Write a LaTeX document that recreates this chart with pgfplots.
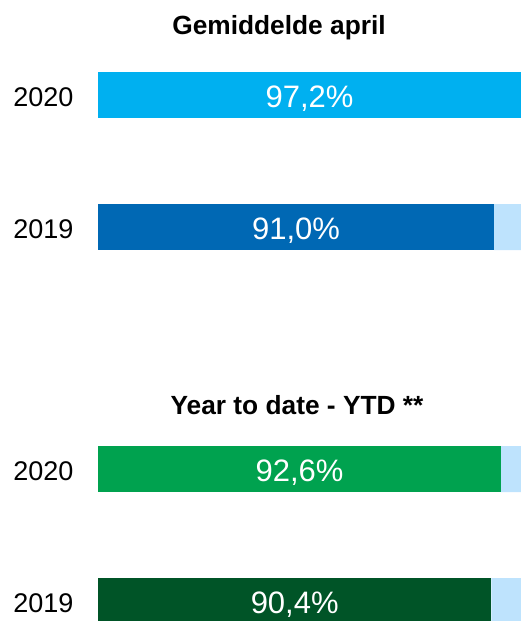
\documentclass[border=0pt]{standalone}
\usepackage{pgfplots}
\pgfplotsset{compat=1.18}
\usepackage{fontspec}
\setmainfont{Liberation Sans}
\definecolor{lblue}{HTML}{00B0F0}
\definecolor{dblue}{HTML}{0068B4}
\definecolor{rest}{HTML}{BEE3FD}
\definecolor{lgreen}{HTML}{00A24F}
\definecolor{dgreen}{HTML}{005427}
\begin{document}
\begin{tikzpicture}[x=1pt,y=1pt]
\path[use as bounding box] (0pt,-621pt) rectangle (521pt,0pt);
\pgfplotsset{panel/.style={scale only axis, width=423pt, height=264pt,
  xmin=0, xmax=97.2, ymin=-0.5, ymax=1.5, xbar stacked, bar width=46pt,
  hide axis, clip=true}}
% Top panel
\begin{axis}[panel, at={(98pt,-293pt)}, anchor=south west]
\addplot[fill=lblue, draw=none] coordinates {(97.2,1) (0,0)};
\addplot[fill=dblue, draw=none] coordinates {(0,1) (91.0,0)};
\addplot[fill=rest, draw=none] coordinates {(2.8,1) (9.0,0)};
\coordinate (l1) at (axis cs:48.6,1);
\coordinate (l2) at (axis cs:45.5,0);
\end{axis}
% Bottom panel
\begin{axis}[panel, at={(98pt,-667pt)}, anchor=south west]
\addplot[fill=lgreen, draw=none] coordinates {(92.6,1) (0,0)};
\addplot[fill=dgreen, draw=none] coordinates {(0,1) (90.4,0)};
\addplot[fill=rest, draw=none] coordinates {(7.4,1) (9.6,0)};
\coordinate (l3) at (axis cs:46.3,1);
\coordinate (l4) at (axis cs:45.2,0);
\end{axis}
\foreach \c/\t in {l1/{97,2\%}, l2/{91,0\%}, l3/{92,6\%}, l4/{90,4\%}}
  \node[text=white, yshift=-4pt, font=\fontsize{31}{35}\selectfont] at (\c) {\t};
% Titles and year labels
\node[font=\bfseries\fontsize{26.3}{30}\selectfont] at (279pt,-28pt) {Gemiddelde april};
\node[font=\bfseries\fontsize{26.3}{30}\selectfont] at (297pt,-405pt) {Year to date - YTD **};
\node[anchor=east, font=\fontsize{27}{31}\selectfont] at (77pt,-97pt) {2020};
\node[anchor=east, font=\fontsize{27}{31}\selectfont] at (77pt,-229pt) {2019};
\node[anchor=east, font=\fontsize{27}{31}\selectfont] at (77pt,-471pt) {2020};
\node[anchor=east, font=\fontsize{27}{31}\selectfont] at (77pt,-603pt) {2019};
\end{tikzpicture}
\end{document}
